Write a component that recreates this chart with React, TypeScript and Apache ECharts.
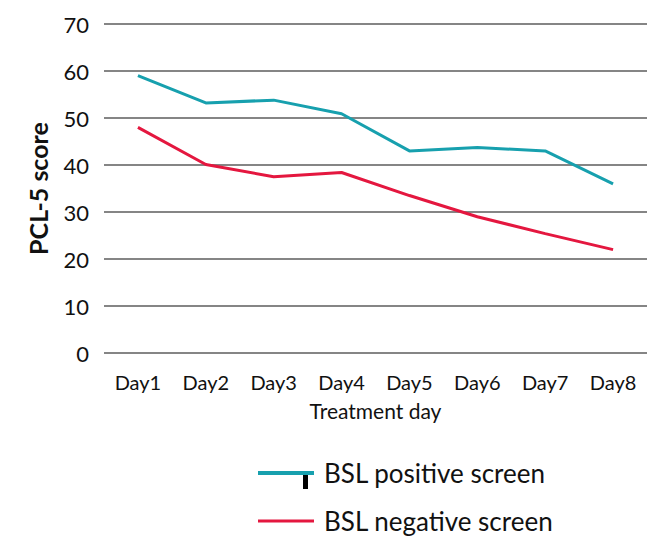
import React, { useEffect, useRef } from "react";
import * as echarts from "echarts";

const categories = ["Day1", "Day2", "Day3", "Day4", "Day5", "Day6", "Day7", "Day8"];
const positiveScreen = [59, 53.2, 53.8, 50.9, 43, 43.7, 43, 36];
const negativeScreen = [48, 40.1, 37.5, 38.4, 33.5, 29, 25.4, 22];
const yTicks = { min: 0, max: 70, interval: 10 };
const seriesNames = ["BSL positive screen", "BSL negative screen"];

const FONT = "Lato, 'Open Sans', sans-serif";
const TEAL = "#17a0ae";
const RED = "#e4173f";
const GRID = "#858585";

export default function App() {
  const ref = useRef<HTMLDivElement>(null);
  useEffect(() => {
    if (!ref.current) return;
    const chart = echarts.init(ref.current, undefined, { renderer: "svg" });
    const legendText = { fontFamily: FONT, fontSize: 26, color: "#111", lineHeight: 26, padding: [0, 0, 0, 5] };
    chart.setOption({
      animation: false,
      backgroundColor: "#ffffff",
      grid: { left: 104, right: 0, top: 24, bottom: 183, containLabel: false },
      xAxis: {
        type: "category",
        data: categories,
        boundaryGap: true,
        name: "Treatment day",
        nameLocation: "middle",
        nameGap: 47,
        nameTextStyle: { fontFamily: FONT, fontSize: 21, color: "#111" },
        axisLine: { show: false },
        axisTick: { show: false },
        axisLabel: { fontFamily: FONT, fontSize: 20, color: "#111", margin: 19 },
      },
      yAxis: {
        type: "value",
        min: yTicks.min,
        max: yTicks.max,
        interval: yTicks.interval,
        name: "PCL-5 score",
        nameLocation: "middle",
        nameGap: 54,
        nameTextStyle: { fontFamily: FONT, fontSize: 25, fontWeight: "bold", color: "#111" },
        axisLine: { show: false },
        axisTick: { show: false },
        axisLabel: { fontFamily: FONT, fontSize: 22, color: "#111", margin: 15 },
        splitLine: { lineStyle: { color: GRID, width: 2 } },
      },
      legend: [
        {
          left: 258,
          top: 460,
          padding: 0,
          itemWidth: 56,
          itemHeight: 4,
          icon: "rect",
          textStyle: legendText,
          data: [{ name: seriesNames[0], itemStyle: { color: TEAL } }],
        },
        {
          left: 258,
          top: 508,
          padding: 0,
          itemWidth: 56,
          itemHeight: 3,
          icon: "rect",
          textStyle: legendText,
          data: [{ name: seriesNames[1], itemStyle: { color: RED } }],
        },
      ],
      series: [
        {
          name: seriesNames[0],
          type: "line",
          data: positiveScreen,
          symbol: "none",
          lineStyle: { color: TEAL, width: 3 },
          itemStyle: { color: TEAL },
        },
        {
          name: seriesNames[1],
          type: "line",
          data: negativeScreen,
          symbol: "none",
          lineStyle: { color: RED, width: 3 },
          itemStyle: { color: RED },
        },
      ],
      graphic: [
        { type: "rect", shape: { x: 303, y: 474, width: 5, height: 15 }, style: { fill: "#000" } },
      ],
    });
    return () => chart.dispose();
  }, []);
  return <div ref={ref} style={{ width: 647, height: 536, position: "absolute", left: 0, top: 0 }} />;
}
